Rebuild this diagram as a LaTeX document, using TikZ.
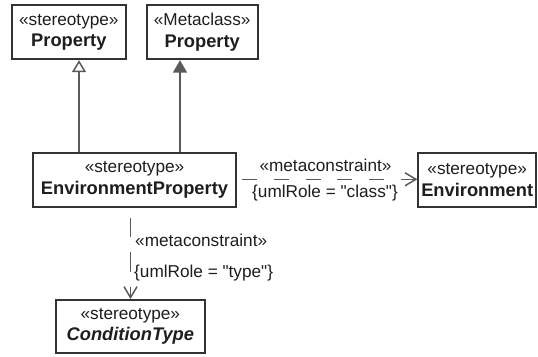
\documentclass[tikz,border=0pt]{standalone}
\usepackage{fontspec}
\setmainfont{Liberation Sans}[Ligatures=TeXOff]
\usetikzlibrary{arrows.meta}
\definecolor{boxline}{HTML}{333333}
\definecolor{connline}{HTML}{5A5A5A}
\definecolor{txt}{HTML}{1E1E1E}
\newcommand\regfont{\fontsize{17.2}{21.6}\selectfont}
\newcommand\boldname[1]{{\fontsize{18.3}{21.6}\selectfont\bfseries #1}}
\tikzset{
  umlbox/.style={draw=boxline, line width=1.8pt, rectangle, inner sep=0pt,
    align=center, text=txt, font=\regfont, fill=white},
  conn/.style={draw=connline, line width=1.5pt},
  lbl/.style={inner sep=0pt, text=txt, font=\regfont},
  dashh/.style={dash pattern=on 15pt off 16.7pt, dash phase=26pt},
  dashv/.style={dash pattern=on 19.5pt off 15pt, dash phase=24.5pt},
  opentip/.style={-{Straight Barb[length=11pt,width=13pt]}},
  gentip/.style={-{Triangle[open,length=12pt,width=14pt]}},
  exttip/.style={-{Triangle[length=12.5pt,width=14pt]}}
}
\begin{document}
\begin{tikzpicture}[x=1pt,y=-1pt]
\fill[white] (0,0) rectangle (538,356);
\path[use as bounding box] (0,0) rectangle (538,356);
\clip (0,0) rectangle (538,356);

\node[umlbox, minimum width=114.3pt, minimum height=54.3pt] (sp) at (68.85,32.15)
  {«stereotype»\\\boldname{Property}};
\node[umlbox, minimum width=111pt, minimum height=54.3pt] (mp) at (202.2,32.15)
  {«Metaclass»\\\boldname{Property}};
\node[umlbox, minimum width=202.4pt, minimum height=54pt] (ep) at (134.5,179.7)
  {«stereotype»\\\boldname{EnvironmentProperty}};
\node[umlbox, minimum width=117.7pt, minimum height=54pt] (env) at (477.2,180)
  {«stereotype»\\\boldname{Environment}};
\node[umlbox, minimum width=149.3pt, minimum height=53pt] (ct) at (130.35,326.5)
  {«stereotype»\\{\fontsize{18.3}{21.6}\selectfont\bfseries\itshape ConditionType}};

\coordinate (g1) at (79,0);
\coordinate (g2) at (180,0);
\coordinate (d1) at (0,179.3);
\coordinate (d2) at (130.5,0);

\draw[conn, gentip] (ep.north -| g1) -- (sp.south -| g1);
\draw[conn, exttip, fill=connline] (ep.north -| g2) -- (mp.south -| g2);
\draw[conn, dashh, opentip] (ep.east |- d1) -- (env.west |- d1);
\draw[conn, dashv, opentip] (ep.south -| d2) -- (ct.north -| d2);

\node[lbl] (l1) at (325.5,165) {«metaconstraint»};
\node[lbl] (l2) at (325,193) {\{umlRole = "class"\}};
\node[lbl, anchor=west] (l3) at (135,240.7) {«metaconstraint»};
\node[lbl, anchor=west] (l4) at (134,272.7) {\{umlRole = "type"\}};
\end{tikzpicture}
\end{document}
